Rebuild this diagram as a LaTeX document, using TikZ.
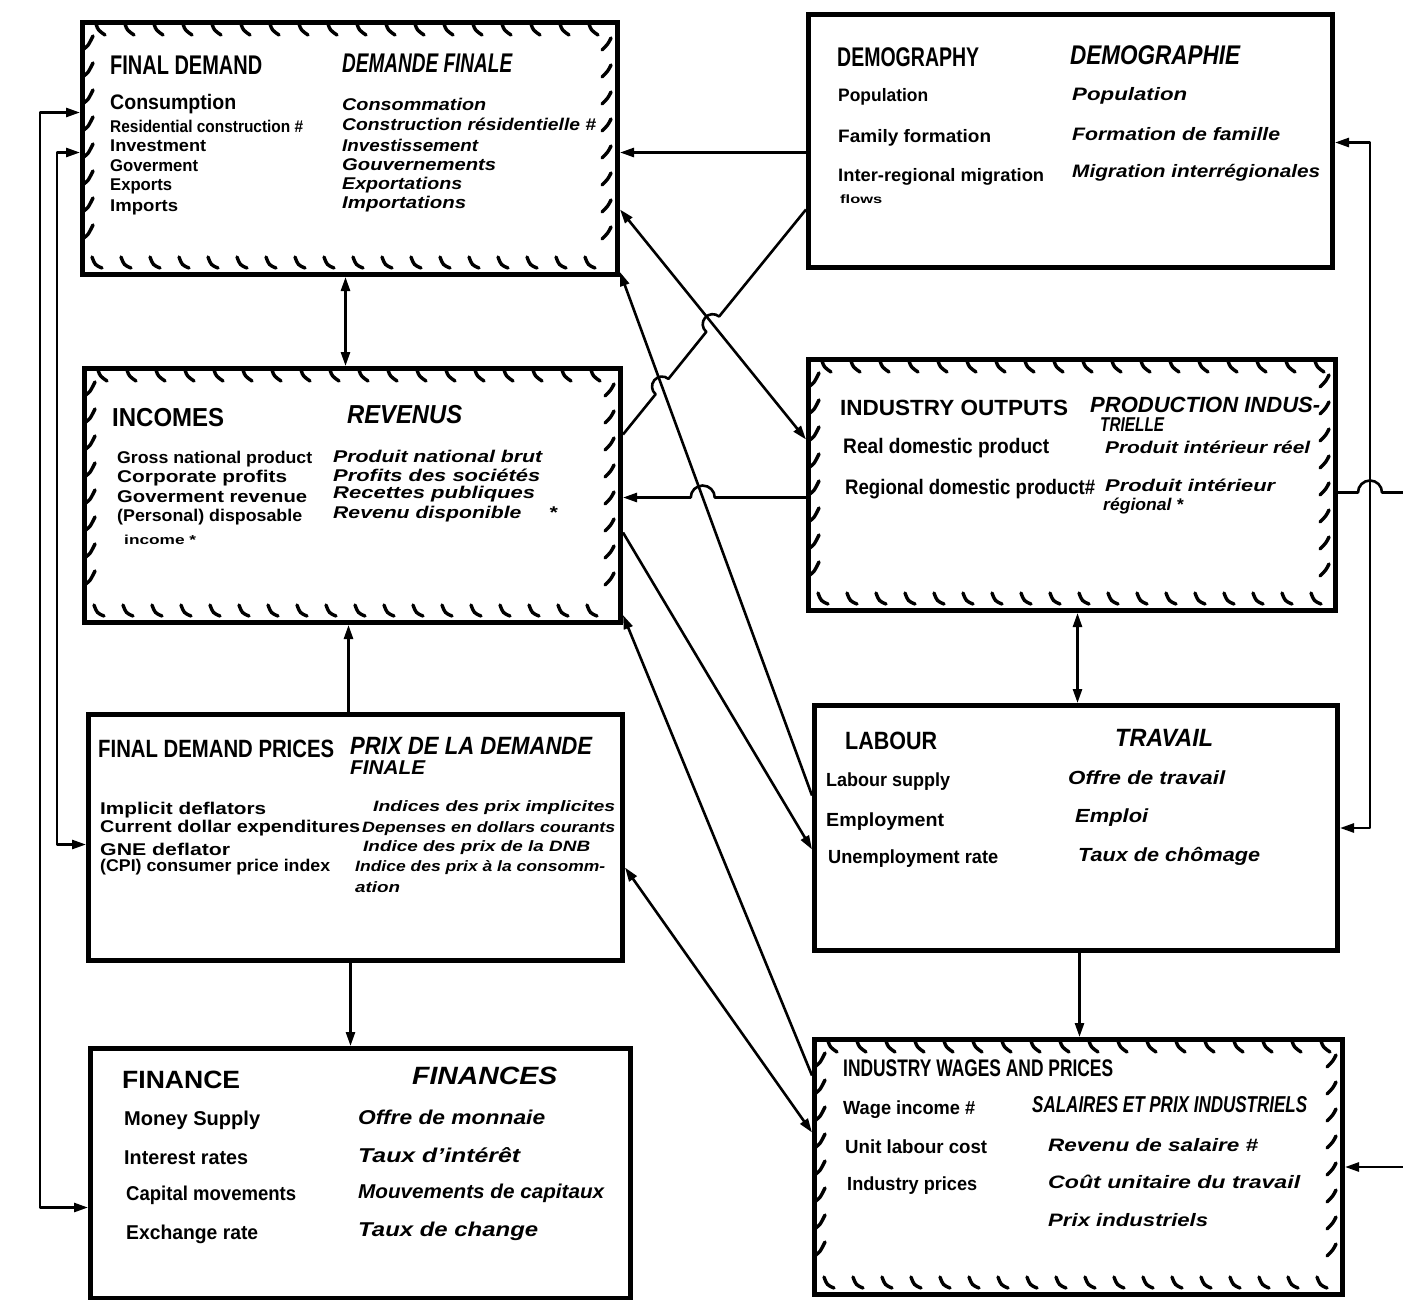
\documentclass[tikz,border=0pt]{standalone}
\usepackage{fontspec}
\setmainfont{Liberation Sans}
\usepackage{graphicx}
\usetikzlibrary{arrows.meta,calc}
\tikzset{
 box/.style={draw, line width=5pt, inner sep=0pt, anchor=north west},
 conn/.style={line width=2.6pt, line join=round},
 tick/.style={line width=3.4pt, line cap=round},
 txt/.style={inner sep=0pt, anchor=west},
 >={Triangle[length=14pt,width=9pt]}
}
\newcommand\EN[1]{\fontsize{#1}{#1}\selectfont\bfseries}
\newcommand\FR[1]{\fontsize{#1}{#1}\selectfont\bfseries\itshape}
\newcommand\T[6]{\node[txt,font={#5}] (#1) at (#2,#3) {\resizebox{#4pt}{\height}{#6}};}
\newcommand\hatchbox[4]{%
 \pgfmathsetmacro\ha{#1+16}\pgfmathsetmacro\hb{#1+45}\pgfmathsetmacro\hc{#3-14}%
 \foreach \xx in {\ha,\hb,...,\hc}{\draw[tick] (\xx,#2+4) .. controls (\xx+2,#2+10) .. (\xx+9,#2+15);}%
 \pgfmathsetmacro\ha{#1+12}\pgfmathsetmacro\hb{#1+41}%
 \foreach \xx in {\ha,\hb,...,\hc}{\draw[tick] (\xx,#4-15) .. controls (\xx+3,#4-7) .. (\xx+10,#4-4);}%
 \pgfmathsetmacro\ha{#2+24}\pgfmathsetmacro\hb{#2+51}\pgfmathsetmacro\hc{#4-22}%
 \foreach \yy in {\ha,\hb,...,\hc}{\draw[tick] (#1+4,\yy+5) .. controls (#1+8,\yy+2) .. (#1+13,\yy-8);}%
 \foreach \yy in {\ha,\hb,...,\hc}{\draw[tick] (#3-4,\yy-6) .. controls (#3-7,\yy) .. (#3-13,\yy+6);}%
}
\begin{document}
\begin{tikzpicture}[x=1pt,y=-1pt]
\useasboundingbox (0,0) rectangle (1403,1299);
\fill[white] (0,0) rectangle (1403,1299);

% ---------- boxes ----------
\node[box,minimum width=535pt,minimum height=252pt] (fd)  at (80,20) {};
\node[box,minimum width=524pt,minimum height=253pt] (dem) at (806,12) {};
\node[box,minimum width=536pt,minimum height=254pt] (inc) at (82,366) {};
\node[box,minimum width=527pt,minimum height=251pt] (io)  at (806,357) {};
\node[box,minimum width=534pt,minimum height=246pt] (fdp) at (86,712) {};
\node[box,minimum width=523pt,minimum height=245pt] (lab) at (812,703) {};
\node[box,minimum width=540pt,minimum height=250pt] (fin) at (88,1046) {};
\node[box,minimum width=528pt,minimum height=255pt] (iwp) at (812,1037) {};

\hatchbox{80}{20}{615}{272}
\hatchbox{82}{366}{618}{620}
\hatchbox{806}{357}{1333}{608}
\hatchbox{812}{1037}{1340}{1292}

% ---------- texts: final demand ----------
\T{fdT}{110}{65}{152}{\EN{27}}{FINAL DEMAND}
\T{fdF}{342}{63}{170}{\FR{27}}{DEMANDE FINALE}
\T{fd1}{110}{104}{126}{\EN{21}}{Consumption}
\T{fd2}{110}{126}{193}{\EN{17}}{Residential construction \#}
\T{fd3}{110}{146}{96}{\EN{17}}{Investment}
\T{fd4}{110}{166}{88}{\EN{17}}{Goverment}
\T{fd5}{110}{186}{62}{\EN{17}}{Exports}
\T{fd6}{110}{207}{68}{\EN{17}}{Imports}
\T{fd1f}{342}{104}{144}{\FR{17}}{Consommation}
\T{fd2f}{342}{124}{254}{\FR{17}}{Construction résidentielle \#}
\T{fd3f}{342}{145}{136}{\FR{17}}{Investissement}
\T{fd4f}{342}{165}{154}{\FR{17}}{Gouvernements}
\T{fd5f}{342}{185}{120}{\FR{17}}{Exportations}
\T{fd6f}{342}{204}{124}{\FR{17}}{Importations}

% ---------- demography ----------
\T{demT}{837}{57}{142}{\EN{27}}{DEMOGRAPHY}
\T{demF}{1070}{55}{170}{\FR{27}}{DEMOGRAPHIE}
\T{dem1}{838}{97}{90}{\EN{18}}{Population}
\T{dem2}{838}{138}{153}{\EN{18}}{Family formation}
\T{dem3}{838}{177}{206}{\EN{18}}{Inter-regional migration}
\T{dem4}{840}{199}{42}{\EN{12}}{flows}
\T{dem1f}{1072}{96}{115}{\FR{18}}{Population}
\T{dem2f}{1072}{134}{208}{\FR{18}}{Formation de famille}
\T{dem3f}{1072}{173}{248}{\FR{18}}{Migration interrégionales}

% ---------- incomes ----------
\T{incT}{112}{418}{112}{\EN{26}}{INCOMES}
\T{incF}{347}{415}{115}{\FR{26}}{REVENUS}
\T{inc1}{117}{459}{195}{\EN{17}}{Gross national product}
\T{inc2}{117}{478}{170}{\EN{17}}{Corporate profits}
\T{inc3}{117}{497}{190}{\EN{17}}{Goverment revenue}
\T{inc4}{117}{517}{185}{\EN{17}}{(Personal) disposable}
\T{inc5}{124}{540}{72}{\EN{13}}{income *}
\T{inc1f}{333}{456}{209}{\FR{17}}{Produit national brut}
\T{inc2f}{333}{475}{207}{\FR{17}}{Profits des sociétés}
\T{inc3f}{333}{494}{202}{\FR{17}}{Recettes publiques}
\T{inc4f}{333}{514}{224}{\FR{17}}{Revenu disponible\hspace{1.3em}*}

% ---------- industry outputs ----------
\T{ioT}{840}{408}{228}{\EN{22}}{INDUSTRY OUTPUTS}
\T{ioF}{1090}{405}{230}{\FR{22}}{PRODUCTION INDUS-}
\T{ioF2}{1100}{425}{64}{\FR{20}}{TRIELLE}
\T{io1}{843}{448}{206}{\EN{21}}{Real domestic product}
\T{io2}{845}{489}{250}{\EN{21}}{Regional domestic product\#}
\T{io1f}{1105}{447}{205}{\FR{17}}{Produit intérieur réel}
\T{io2f}{1105}{485}{170}{\FR{17}}{Produit intérieur}
\T{io3f}{1103}{506}{80}{\FR{17}}{régional *}

% ---------- final demand prices ----------
\T{fdpT}{98}{749}{236}{\EN{25}}{FINAL DEMAND PRICES}
\T{fdpF}{350}{746}{242}{\FR{25}}{PRIX DE LA DEMANDE}
\T{fdpF2}{350}{768}{75}{\FR{20}}{FINALE}
\T{fdp1}{100}{810}{166}{\EN{17}}{Implicit deflators}
\T{fdp2}{100}{828}{260}{\EN{17}}{Current dollar expenditures}
\T{fdp3}{100}{849}{130}{\EN{17}}{GNE deflator}
\T{fdp4}{100}{867}{230}{\EN{17}}{(CPI) consumer price index}
\T{fdp1f}{373}{808}{242}{\FR{15}}{Indices des prix implicites}
\T{fdp2f}{362}{829}{253}{\FR{15}}{Depenses en dollars courants}
\T{fdp3f}{363}{848}{227}{\FR{15}}{Indice des prix de la DNB}
\T{fdp4f}{355}{868}{250}{\FR{15}}{Indice des prix à la consomm-}
\T{fdp5f}{355}{887}{45}{\FR{15}}{ation}

% ---------- labour ----------
\T{labT}{845}{741}{92}{\EN{25}}{LABOUR}
\T{labF}{1115}{738}{98}{\FR{25}}{TRAVAIL}
\T{lab1}{826}{782}{124}{\EN{19}}{Labour supply}
\T{lab2}{826}{822}{118}{\EN{19}}{Employment}
\T{lab3}{828}{859}{170}{\EN{19}}{Unemployment rate}
\T{lab1f}{1068}{778}{157}{\FR{19}}{Offre de travail}
\T{lab2f}{1075}{818}{73}{\FR{19}}{Emploi}
\T{lab3f}{1078}{856}{182}{\FR{19}}{Taux de chômage}

% ---------- finance ----------
\T{finT}{122}{1080}{118}{\EN{25}}{FINANCE}
\T{finF}{412}{1076}{145}{\FR{25}}{FINANCES}
\T{fin1}{124}{1120}{136}{\EN{20}}{Money Supply}
\T{fin2}{124}{1158}{124}{\EN{20}}{Interest rates}
\T{fin3}{126}{1195}{170}{\EN{20}}{Capital movements}
\T{fin4}{126}{1234}{132}{\EN{20}}{Exchange rate}
\T{fin1f}{358}{1117}{187}{\FR{20}}{Offre de monnaie}
\T{fin2f}{358}{1155}{162}{\FR{20}}{Taux d'intérêt}
\T{fin3f}{358}{1193}{246}{\FR{20}}{Mouvements de capitaux}
\T{fin4f}{358}{1231}{180}{\FR{20}}{Taux de change}

% ---------- industry wages and prices ----------
\T{iwpT}{843}{1068}{270}{\EN{24}}{INDUSTRY WAGES AND PRICES}
\T{iwpF}{1032}{1105}{275}{\FR{23}}{SALAIRES ET PRIX INDUSTRIELS}
\T{iwp1}{843}{1110}{132}{\EN{19}}{Wage income \#}
\T{iwp2}{845}{1147}{142}{\EN{19}}{Unit labour cost}
\T{iwp3}{847}{1186}{130}{\EN{19}}{Industry prices}
\T{iwp1f}{1048}{1145}{210}{\FR{18}}{Revenu de salaire \#}
\T{iwp2f}{1048}{1182}{252}{\FR{18}}{Coût unitaire du travail}
\T{iwp3f}{1048}{1220}{160}{\FR{18}}{Prix industriels}

% ---------- connector end points ----------
\coordinate (lo) at (40,0);
\coordinate (li) at (57,0);
\coordinate (ri) at (1370,0);
\coordinate (re) at (1403,0);
\coordinate (c5a) at ([yshift=-68.5pt]dem.west);
\coordinate (c5b) at ([yshift=61pt]inc.east);
\coordinate (c6a) at ([yshift=-12.5pt]io.west);
\coordinate (c6b) at (c6a -| inc.east);
\coordinate (c7a) at ([yshift=-61pt]fd.east);
\coordinate (c7b) at ([yshift=45.5pt]io.west);
\coordinate (c8a) at ([yshift=32.5pt]lab.west);
\coordinate (c8b) at ([yshift=5pt]fd.south east);
\coordinate (c17a) at ([yshift=-7.5pt]io.east);
\coordinate (c17b) at (c17a -| re);
\coordinate (h1) at (intersection of c5a--c5b and c7a--c7b);
\coordinate (h2) at (intersection of c5a--c5b and c8a--c8b);
\coordinate (h3) at (intersection of c6a--c6b and c8a--c8b);
\coordinate (h4) at (c17a -| ri);

% ---------- connectors ----------
\draw[conn,<->] ([xshift=-4.5pt]fd.south) -- ([xshift=-4.5pt]fd.south |- inc.north);
\draw[conn,->] ([xshift=-7pt]fdp.north) -- ([xshift=-7pt]fdp.north |- inc.south);
\draw[conn,->] ([xshift=-5pt]fdp.south) -- ([xshift=-5pt]fdp.south |- fin.north);
\draw[conn,->] ([yshift=-11.5pt]dem.west) -- ([yshift=-11.5pt]dem.west -| fd.east);
\draw[conn] (c5a) -- ($(h1)+(309.88:10)$) arc[start angle=309.88,end angle=129.88,radius=10]
  -- ($(h2)+(309.88:10)$) arc[start angle=309.88,end angle=129.88,radius=10] -- (c5b);
\draw[conn,->] (c6a) -- ($(h3)+(0:12)$) arc[start angle=0,end angle=-180,radius=12] -- (c6b);
\draw[conn,<->] (c7a) -- (c7b);
\draw[conn,->] (c8a) -- (c8b);
\draw[conn,->] ([yshift=-37pt]inc.east) -- ([yshift=-21.5pt]lab.west);
\draw[conn,->] ([yshift=91.5pt]iwp.west) -- ([yshift=10pt]inc.south east);
\draw[conn,<->] ([yshift=-30pt]fdp.east) -- ([yshift=34.5pt]iwp.west);
\draw[conn,<->] ([xshift=5.5pt]io.south) -- ([xshift=5.5pt]io.south |- lab.north);
\draw[conn,->] ([xshift=3.5pt]lab.south) -- ([xshift=3.5pt]lab.south |- iwp.north);
\draw[conn,<->] ([yshift=-34pt]fin.west) -- ([yshift=-34pt]fin.west -| lo)
  -- ([yshift=36pt]fd.west -| lo) -- ([yshift=36pt]fd.west);
\draw[conn,<->] ([yshift=-7pt]fdp.west) -- ([yshift=-7pt]fdp.west -| li)
  -- ([yshift=-4pt]fd.west -| li) -- ([yshift=-4pt]fd.west);
\draw[conn,<->] ([yshift=-1.5pt]dem.east) -- ([yshift=-1.5pt]dem.east -| ri)
  -- (lab.east -| ri) -- (lab.east);
\draw[conn] (c17a) -- ($(h4)+(180:12)$) arc[start angle=180,end angle=360,radius=12] -- (c17b);
\draw[conn,->] (iwp.east -| re) -- (iwp.east);
\end{tikzpicture}
\end{document}
